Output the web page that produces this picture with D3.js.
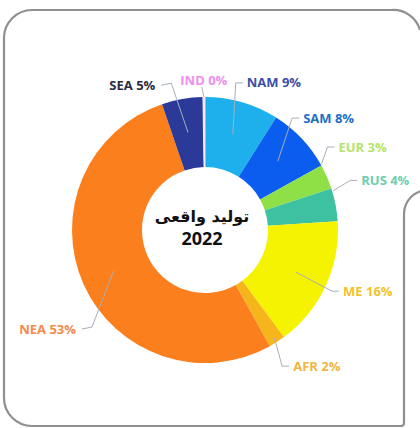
<!DOCTYPE html>
<html><head><meta charset="utf-8">
<script src="https://cdn.jsdelivr.net/npm/d3@7/dist/d3.min.js"></script>
<style>html,body{margin:0;padding:0;background:#fff;}svg{display:block;}</style>
</head><body>
<svg id="c" width="420" height="428"></svg>
<script>
// ---- data ----
const categories = ["NAM","SAM","EUR","RUS","ME","AFR","NEA","SEA","IND"];
const values     = [9, 8, 3, 4, 16, 2, 53, 5, 0.25];
const labelPct   = ["9%","8%","3%","4%","16%","2%","53%","5%","0%"];
const titleLines = ["تولید واقعی","2022"];

// ---- styles / layout ----
const sliceColors = {NAM:"#1db0ec",SAM:"#0b5df0",EUR:"#8fe047",RUS:"#3dc1a0",ME:"#f5f300",AFR:"#f7b51c",NEA:"#fc7f1d",SEA:"#2b3a99",IND:"#f6d2f6"};
const labelColors = {NAM:"#3b4fa8",SAM:"#1f6fc5",EUR:"#b3e46a",RUS:"#6dceb0",ME:"#f0c22a",AFR:"#f0b640",NEA:"#f58a4c",SEA:"#2b2b45",IND:"#f08ef0"};
// label nudges relative to a point at radius 150 on slice mid-angle; leader radius / angle offsets
const layout = {
  NAM:{anchor:"start",dx:0,dy:-3,lr:100,la:0},
  SAM:{anchor:"start",dx:-11,dy:-9,lr:100,la:0},
  EUR:{anchor:"start",dx:-4,dy:-23,lr:134,la:-6},
  RUS:{anchor:"start",dx:9,dy:-21,lr:134,la:-6},
  ME: {anchor:"start",dx:2,dy:-2,lr:100,la:0},
  AFR:{anchor:"start",dx:7,dy:10,lr:128,la:0},
  NEA:{anchor:"end",dx:8,dy:38,lr:100,la:0},
  SEA:{anchor:"end",dx:-24,dy:3,lr:99,la:0},
  IND:{anchor:"middle",dx:0,dy:0,lr:133,la:0}
};
const cx = 205, cy = 230, rOuter = 133, rInner = 63, rLabel = 150;

const svg = d3.select("#c");

// frame
svg.append("path")
  .attr("d","M420,30 A28,28 0 0 0 392,10 L32,10 A28,28 0 0 0 4,38 L4,398 A28,28 0 0 0 32,426 L401,426 A3,3 0 0 0 404,423 L404,214 A24,24 0 0 1 428,190")
  .attr("fill","none").attr("stroke","#8f8f8f").attr("stroke-width",2.2);

const g = svg.append("g").attr("transform",`translate(${cx},${cy})`);
const data = categories.map((c,i)=>({cat:c,value:values[i],pct:labelPct[i]}));
const pie = d3.pie().value(d=>d.value).sort(null).startAngle(0).endAngle(2*Math.PI);
const arcs = pie(data);
const arc = d3.arc().innerRadius(rInner).outerRadius(rOuter);

g.selectAll("path.slice").data(arcs).join("path")
  .attr("class","slice")
  .attr("d",arc)
  .attr("fill",d=>sliceColors[d.data.cat])
  .attr("stroke",d=>d.data.cat==="IND"?"#ffffff":"none")
  .attr("stroke-width",0.8);

const polar = (a,r)=>[Math.sin(a)*r, -Math.cos(a)*r];

arcs.forEach(d=>{
  const L = layout[d.data.cat];
  const mid = (d.startAngle+d.endAngle)/2;
  const p = polar(mid, rLabel);
  const lx = p[0]+L.dx, ly = p[1]+L.dy;
  const s = polar(mid + L.la*Math.PI/180, L.lr);
  let pts;
  if (L.anchor==="start") pts=[s,[lx-11,ly],[lx-4,ly]];
  else if (L.anchor==="end") pts=[s,[lx+16,ly-2],[lx+6,ly]];
  else pts=[s,[lx-2,ly+7]];
  g.append("path")
    .attr("d",d3.line()(pts))
    .attr("fill","none").attr("stroke","#a7afbb").attr("stroke-width",1);
  g.append("text")
    .attr("x",lx).attr("y",ly)
    .attr("dy","0.35em")
    .attr("text-anchor",L.anchor)
    .attr("font-family","'Open Sans', sans-serif")
    .attr("font-weight","700")
    .attr("font-size",13)
    .attr("fill",labelColors[d.data.cat])
    .text(d.data.cat+" "+d.data.pct);
});

// center title
g.append("text").attr("x",-3).attr("y",-8)
  .attr("text-anchor","middle").attr("direction","rtl")
  .attr("font-family","'DejaVu Sans', 'Noto Sans', sans-serif").attr("font-weight","700")
  .attr("font-size",16).attr("fill","#111").text(titleLines[0]);
g.append("text").attr("x",-3).attr("y",15)
  .attr("text-anchor","middle")
  .attr("font-family","'Open Sans', sans-serif").attr("font-weight","700")
  .attr("font-size",18).attr("fill","#111").text(titleLines[1]);
</script>
</body></html>
